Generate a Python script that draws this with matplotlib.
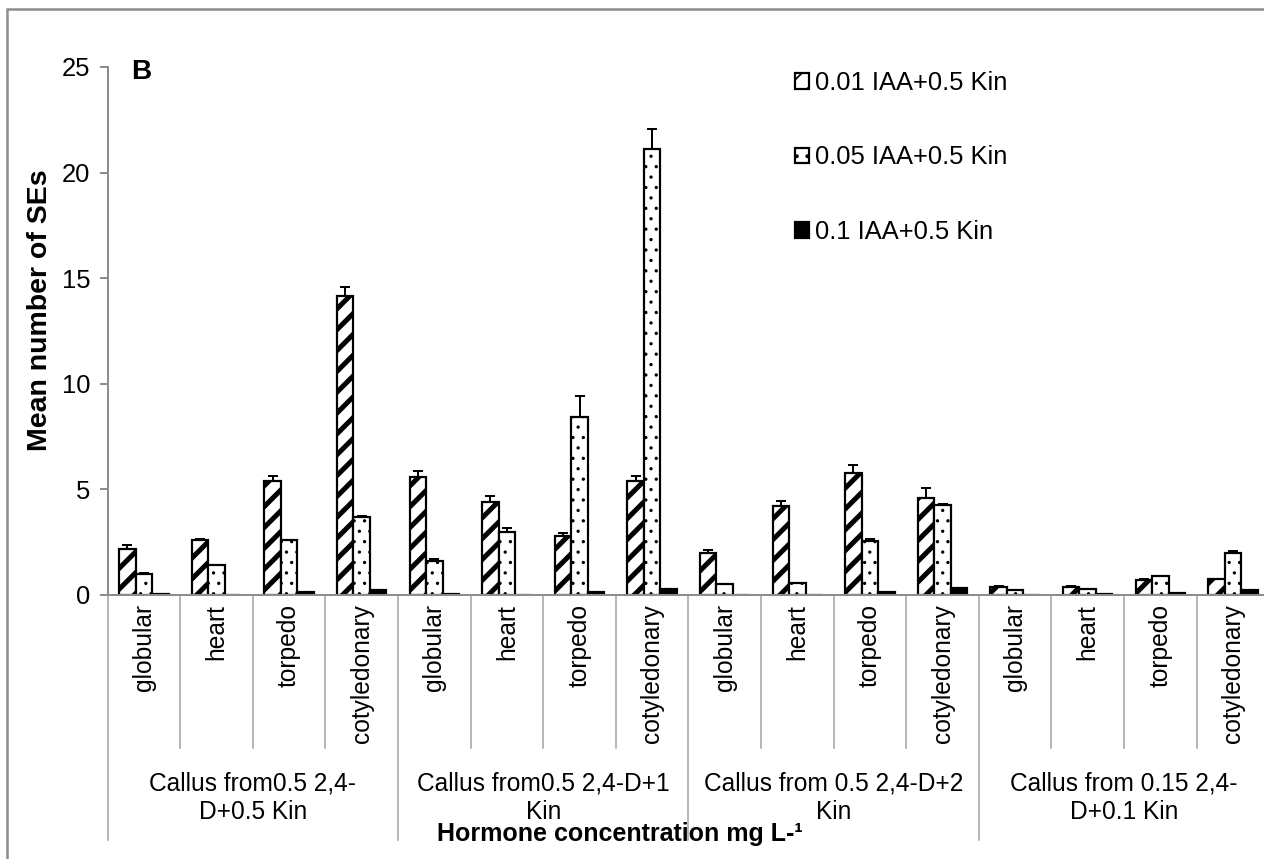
import matplotlib
matplotlib.use("Agg")
import matplotlib.pyplot as plt
from matplotlib import transforms
from matplotlib.patches import Rectangle
import numpy as np

# embryo stages and callus origin groups
stages = ["globular", "heart", "torpedo", "cotyledonary"]
groups = ["Callus from0.5 2,4-\nD+0.5 Kin",
          "Callus from0.5 2,4-D+1\nKin",
          "Callus from 0.5 2,4-D+2\nKin",
          "Callus from 0.15 2,4-\nD+0.1 Kin"]
series_names = ["0.01 IAA+0.5 Kin", "0.05 IAA+0.5 Kin", "0.1 IAA+0.5 Kin"]

# mean number of somatic embryos (4 stages x 4 callus groups)
iaa_001 = [2.2, 2.6, 5.4, 14.15, 5.6, 4.4, 2.8, 5.4, 2.0, 4.2, 5.8, 4.6, 0.4, 0.4, 0.72, 0.75]
err_001 = [0.15, 0.03, 0.22, 0.45, 0.27, 0.27, 0.15, 0.22, 0.13, 0.25, 0.35, 0.45, 0.02, 0.03, 0.02, 0.02]
iaa_005 = [1.0, 1.4, 2.6, 3.7, 1.6, 3.0, 8.45, 21.1, 0.5, 0.55, 2.57, 4.25, 0.22, 0.27, 0.88, 2.0]
err_005 = [0.02, 0.02, 0.02, 0.06, 0.1, 0.17, 0.95, 0.95, 0.02, 0.02, 0.07, 0.08, 0.02, 0.02, 0.03, 0.1]
iaa_01 = [0.03, 0.02, 0.12, 0.22, 0.03, 0.02, 0.12, 0.27, 0.02, 0.02, 0.12, 0.35, 0.02, 0.05, 0.1, 0.25]

plt.rcParams['font.family'] = ['Liberation Sans', 'DejaVu Sans']

W, H, DPI = 1264, 859, 125
fig = plt.figure(figsize=(W / DPI, H / DPI), dpi=DPI)

def px(v):
    # pixels -> points
    return v * 72.0 / DPI

x0, cw, ybase, ytop = 107.6, 72.6, 595, 67
ax = fig.add_axes([x0 / W, 1 - ybase / H, 16 * cw / W, (ybase - ytop) / H])

n = len(stages) * len(groups)
x = np.arange(n) + 0.5
bw = 16.5 / cw
gray = "#8c8c8c"

def draw_bars(pos, vals, err, hatch, face, hlw):
    with plt.rc_context({'hatch.linewidth': hlw}):
        bars = ax.bar(pos, vals, bw, color=face, edgecolor="black",
                      linewidth=px(2.2), hatch=hatch, zorder=2)
        for b in bars:
            if hasattr(b, "set_hatch_linewidth"):
                b.set_hatch_linewidth(hlw)
    if err is not None:
        ax.errorbar(pos, vals, yerr=[np.zeros(n), err], fmt="none",
                    ecolor="black", elinewidth=px(2), capsize=px(5),
                    capthick=px(2), zorder=3)
    return bars

b1 = draw_bars(x - bw, iaa_001, err_001, "//", "white", px(5))
b2 = draw_bars(x, iaa_005, err_005, "..", "white", px(1.2))
b3 = draw_bars(x + bw, iaa_01, None, None, "black", px(1))

ax.set_xlim(0, n)
ax.set_ylim(0, 25)
ax.set_yticks(np.arange(0, 26, 5))
for s in ["top", "right"]:
    ax.spines[s].set_visible(False)
ax.spines["left"].set_color(gray)
ax.spines["bottom"].set_color(gray)
ax.spines["left"].set_linewidth(px(2))
ax.spines["bottom"].set_linewidth(px(2))
ax.tick_params(axis="y", colors=gray, length=px(8), width=px(2),
               labelsize=px(25.5), labelcolor="black", pad=px(9))
ax.set_xticks(x)
ax.set_xticklabels(stages * len(groups), rotation=90, fontsize=px(24.5))
ax.tick_params(axis="x", length=0, pad=px(9))

# category / group dividers under the axis
trans = transforms.blended_transform_factory(ax.transData, ax.transAxes)
h = ybase - ytop
for k in range(n + 1):
    bottom = 840 if k % 4 == 0 else 748
    ax.plot([k, k], [0, -(bottom - ybase) / h], color="#a6a6a6",
            lw=px(1.6), transform=trans, clip_on=False)

for i, g in enumerate(groups):
    ax.text(i * 4 + 2, -(798 - ybase) / h, g, transform=trans, ha="center",
            va="center", fontsize=px(24.5), linespacing=1.25)

fig.text(40 / W, 1 - 310 / H, "Mean number of SEs", rotation=90,
         ha="center", va="center", fontsize=px(28.5), fontweight="bold")
fig.text(620 / W, 1 - 834 / H, "Hormone concentration mg L-\u00b9",
         ha="center", va="center", fontsize=px(25), fontweight="bold")
fig.text(131 / W, 1 - 72 / H, "B", ha="left", va="center",
         fontsize=px(28), fontweight="bold")

leg = ax.legend([b1, b2, b3], series_names, loc="upper left",
                bbox_to_anchor=(795 / W, 1 - 71 / H),
                bbox_transform=fig.transFigure, frameon=False,
                fontsize=px(25.5), handlelength=0.55, handleheight=0.55,
                handletextpad=0.25, labelspacing=1.98, borderpad=0,
                borderaxespad=0)

# outer chart border
fig.add_artist(Rectangle((7 / W, -0.1), 2, 1.1 - 9 / H, transform=fig.transFigure,
                         fill=False, edgecolor=gray, lw=px(2.5)))

fig.savefig("out.png", dpi=DPI)
